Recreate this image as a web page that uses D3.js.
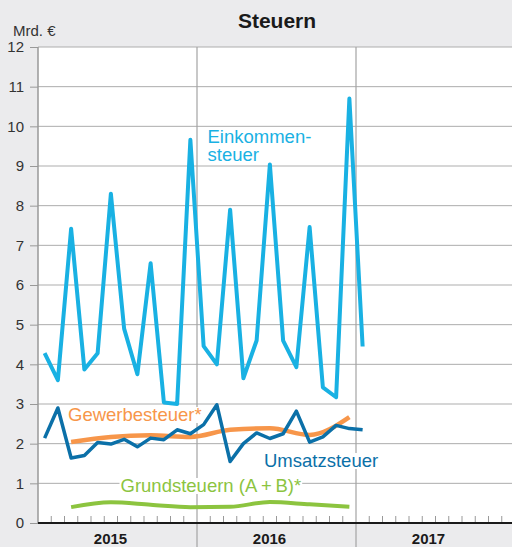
<!DOCTYPE html>
<html>
<head>
<meta charset="utf-8">
<script src="https://cdn.jsdelivr.net/npm/d3@7"></script>
<style>
  html, body { margin: 0; padding: 0; background: #ebebed; }
  svg { display: block; font-family: "Liberation Sans", Arial, Helvetica, sans-serif; }
</style>
</head>
<body>
<div id="chart"></div>
<script>
// monthly values, Jan 2015 .. Jan 2017 (Mrd. €)
const einkommen = [4.28, 3.6, 7.42, 3.87, 4.28, 8.3, 4.9, 3.75, 6.55, 3.04, 3.0, 9.66,
                   4.46, 4.0, 7.9, 3.65, 4.6, 9.04, 4.6, 3.93, 7.46, 3.42, 3.17, 10.7, 4.45];
const umsatz = [2.14, 2.9, 1.64, 1.7, 2.03, 1.99, 2.11, 1.92, 2.14, 2.1, 2.35, 2.25,
                2.48, 2.98, 1.55, 2.0, 2.27, 2.13, 2.25, 2.82, 2.04, 2.17, 2.46, 2.38, 2.35];
// quarterly values, plotted at the last month of each quarter
const quarterMonths = [2, 5, 8, 11, 14, 17, 20, 23];
const gewerbe = [2.04, 2.17, 2.21, 2.17, 2.35, 2.39, 2.22, 2.67];
const grund = [0.4, 0.52, 0.46, 0.4, 0.41, 0.53, 0.47, 0.41];
const years = ['2015', '2016', '2017'];
const yTicks = d3.range(0, 13);

const W = 512, H = 547;
const plot = { left: 38, top: 47, bottom: 523, right: 515 };

const x = d3.scaleLinear().domain([0, 36]).range([plot.left, plot.right]);
const y = d3.scaleLinear().domain([0, 12]).range([plot.bottom, plot.top]);

const svg = d3.select('#chart').append('svg')
  .attr('width', W)
  .attr('height', H);

svg.append('rect').attr('width', W).attr('height', H).attr('fill', '#ebebed');
svg.append('rect')
  .attr('x', plot.left).attr('y', plot.top)
  .attr('width', W - plot.left).attr('height', plot.bottom - plot.top)
  .attr('fill', '#fff');

svg.append('text')
  .attr('x', 277).attr('y', 28)
  .attr('text-anchor', 'middle')
  .attr('font-size', 21).attr('font-weight', 'bold')
  .attr('fill', '#1a1a1a')
  .text('Steuern');

svg.append('text')
  .attr('x', 13).attr('y', 36)
  .attr('font-size', 15).attr('fill', '#333')
  .text('Mrd. €');

// grid
svg.append('g').selectAll('line')
  .data(yTicks.filter(d => d > 0))
  .join('line')
  .attr('x1', plot.left).attr('x2', W)
  .attr('y1', d => y(d)).attr('y2', d => y(d))
  .attr('stroke', '#adadad').attr('stroke-width', 1);

// y axis
const yAxis = svg.append('g')
  .attr('transform', `translate(${plot.left},0)`)
  .call(d3.axisLeft(y).tickValues(yTicks).tickSize(8).tickPadding(6));
yAxis.select('.domain').remove();
yAxis.selectAll('.tick line').attr('stroke', '#999');
yAxis.selectAll('.tick text')
  .attr('font-size', 15).attr('fill', '#333')
  .attr('font-family', '"Liberation Sans", Arial, sans-serif');
svg.append('line')
  .attr('x1', plot.left).attr('x2', plot.left)
  .attr('y1', plot.top).attr('y2', plot.bottom)
  .attr('stroke', '#999').attr('stroke-width', 1.5);

// month ticks
svg.append('g').selectAll('line')
  .data(d3.range(1, 36).filter(m => m % 12 !== 0))
  .join('line')
  .attr('x1', d => x(d)).attr('x2', d => x(d))
  .attr('y1', plot.bottom - 7).attr('y2', plot.bottom)
  .attr('stroke', '#999').attr('stroke-width', 1);

// year dividers
svg.append('g').selectAll('line')
  .data([12, 24])
  .join('line')
  .attr('x1', d => x(d)).attr('x2', d => x(d))
  .attr('y1', plot.top).attr('y2', H)
  .attr('stroke', '#a3a3a3').attr('stroke-width', 1.2);

svg.append('line')
  .attr('x1', plot.left).attr('x2', W)
  .attr('y1', plot.bottom).attr('y2', plot.bottom)
  .attr('stroke', '#1a1a1a').attr('stroke-width', 2);

svg.append('g').selectAll('text')
  .data(years)
  .join('text')
  .attr('x', (d, i) => x(i * 12 + 6) - 7)
  .attr('y', 544)
  .attr('text-anchor', 'middle')
  .attr('font-size', 15).attr('font-weight', 'bold')
  .attr('fill', '#1a1a1a')
  .text(d => d);

// series
const monthly = d3.line().x((d, i) => x(i + 0.5)).y(d => y(d));
const quarterly = d3.line()
  .x((d, i) => x(quarterMonths[i] + 0.5)).y(d => y(d))
  .curve(d3.curveMonotoneX);

const series = [
  { values: grund, gen: quarterly, color: '#8cc43f', width: 4 },
  { values: gewerbe, gen: quarterly, color: '#f7964a', width: 4.5 },
  { values: umsatz, gen: monthly, color: '#0b70a8', width: 3.5 },
  { values: einkommen, gen: monthly, color: '#19b1e3', width: 4 }
];

svg.append('g').selectAll('path')
  .data(series)
  .join('path')
  .attr('d', d => d.gen(d.values))
  .attr('fill', 'none')
  .attr('stroke', d => d.color)
  .attr('stroke-width', d => d.width)
  .attr('stroke-linejoin', 'round');

// labels with white boxes
const labels = [
  { text: 'Einkommen-', x: 207.5, y: 142.5, color: '#19b1e3' },
  { text: 'steuer', x: 207.5, y: 161, color: '#19b1e3' },
  { text: 'Gewerbesteuer*', x: 68, y: 421, color: '#f7964a' },
  { text: 'Umsatzsteuer', x: 264, y: 467, color: '#0b70a8' },
  { text: 'Grundsteuern (A\u2009+\u2009B)*', x: 120.5, y: 492, color: '#8cc43f' }
];

const labelG = svg.append('g');
labels.forEach(l => {
  const g = labelG.append('g');
  const t = g.append('text')
    .attr('x', l.x).attr('y', l.y)
    .attr('font-size', 18.5)
    .attr('fill', l.color)
    .text(l.text);
  const bb = t.node().getBBox();
  g.insert('rect', 'text')
    .attr('x', bb.x - 1).attr('y', bb.y + 3)
    .attr('width', bb.width + 2).attr('height', bb.height - 5)
    .attr('fill', '#fff');
});
</script>
</body>
</html>
